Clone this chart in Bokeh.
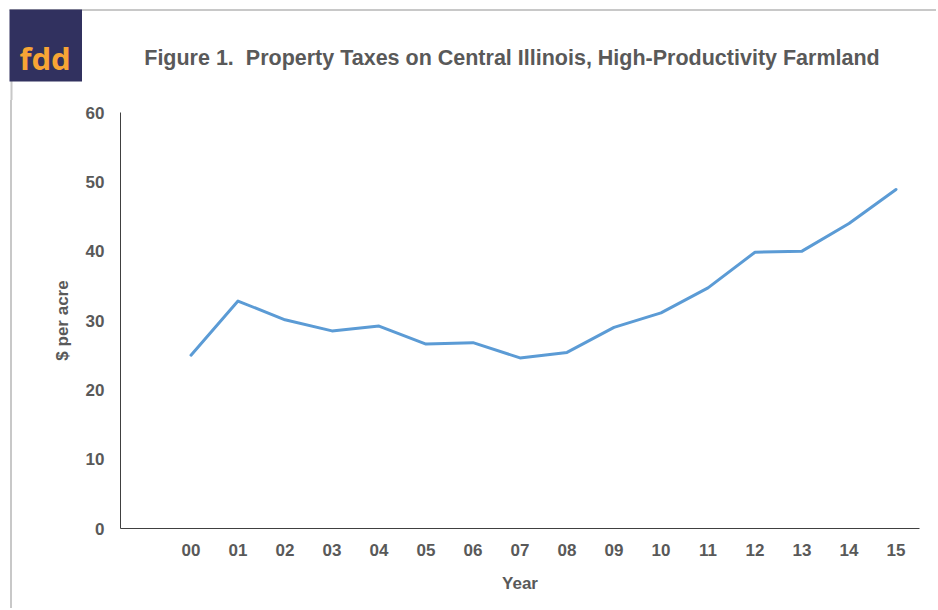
from bokeh.plotting import figure
from bokeh.models import Range1d, FixedTicker, Spacer
from bokeh.layouts import column, row
from bokeh.core.properties import value
from bokeh.embed import file_html
from bokeh.resources import INLINE

years = ["00", "01", "02", "03", "04", "05", "06", "07", "08", "09", "10", "11", "12", "13", "14", "15"]
taxes = [25.0, 32.8, 30.1, 28.5, 29.2, 26.6, 26.8, 24.6, 25.4, 29.0, 31.1, 34.7, 39.85, 40.0, 44.0, 48.9]
y_ticks = [0, 10, 20, 30, 40, 50, 60]

title_text = "Figure 1.\u00a0 Property Taxes on Central Illinois, High-Productivity Farmland"
logo_text = "fdd"
FONT = "Liberation Sans"
GREY = "#595959"
BORDER = "#C8C8C8"

TOTAL_W, TOTAL_H = 936, 608
HEAD_H = 100
STRIP_W = 12

# ---------- header (logo + title + page border) ----------
head = figure(width=TOTAL_W, height=HEAD_H, output_backend="svg", toolbar_location=None,
              x_range=Range1d(0, TOTAL_W), y_range=Range1d(HEAD_H, 0),
              x_axis_location=None, y_axis_location=None,
              min_border=0, min_border_left=0, min_border_right=0, min_border_top=0, min_border_bottom=0)
head.outline_line_color = None
head.xgrid.grid_line_color = None
head.ygrid.grid_line_color = None
head.segment(x0=[9], y0=[9.5], x1=[936], y1=[9.5], line_color=BORDER, line_width=2)
head.segment(x0=[11], y0=[9], x1=[11], y1=[HEAD_H], line_color=BORDER, line_width=2)
head.quad(left=[9], right=[81.5], top=[9], bottom=[81], fill_color="#31315F", line_color=None)
head.text(x=[44.5], y=[57], text=[logo_text], text_font=value("Noto Sans"), text_font_style="bold",
          text_font_size="31px", text_color="#F7A535", text_align="center", text_baseline="alphabetic")
head.text(x=[511.5], y=[57], text=[title_text], text_font=value(FONT), text_font_style="bold",
          text_font_size="21.5px", text_color=GREY, text_align="center", text_baseline="middle")

# ---------- left page-border strip (CSS border on a spacer) ----------
MAIN_H = TOTAL_H - HEAD_H
strip = Spacer(width=STRIP_W, height=MAIN_H,
               styles={"box-sizing": "border-box", "border-right": f"2px solid {BORDER}"})

# ---------- main chart ----------
MAIN_W = TOTAL_W - STRIP_W
ML = 120 - STRIP_W
MR = TOTAL_W - 919
MT = 112 - HEAD_H
MB = TOTAL_H - 528

xs = list(range(len(years)))
p = figure(width=MAIN_W, height=MAIN_H, output_backend="svg", toolbar_location=None,
           x_range=Range1d(-1.5, len(years) - 0.5), y_range=Range1d(0, 60),
           min_border_left=ML, min_border_right=MR, min_border_top=MT, min_border_bottom=MB)
p.outline_line_color = None
p.xgrid.grid_line_color = None
p.ygrid.grid_line_color = None

p.line(xs, taxes, line_color="#5B9BD5", line_width=3, line_join="round", line_cap="round")

p.xaxis.ticker = FixedTicker(ticks=xs)
p.xaxis.major_label_overrides = {i: y for i, y in zip(xs, years)}
p.yaxis.ticker = FixedTicker(ticks=y_ticks)
for ax in (p.xaxis[0], p.yaxis[0]):
    ax.major_tick_out = 0
    ax.major_tick_in = 0
    ax.minor_tick_out = 0
    ax.minor_tick_in = 0
    ax.axis_line_color = "#404040"
    ax.axis_line_width = 1
    ax.major_label_text_font = FONT
    ax.major_label_text_font_style = "bold"
    ax.major_label_text_font_size = "17px"
    ax.major_label_text_color = GREY
    ax.axis_label_text_font = FONT
    ax.axis_label_text_font_style = "bold"
    ax.axis_label_text_font_size = "17px"
    ax.axis_label_text_color = GREY
p.xaxis.axis_label = "Year"
p.yaxis.axis_label = "$ per acre"
p.xaxis.major_label_standoff = 15
p.yaxis.major_label_standoff = 16
p.xaxis.axis_label_standoff = 15
p.yaxis.axis_label_standoff = 11

layout = column(head, row(strip, p, spacing=0), spacing=0)
open("out.html", "w").write(file_html(layout, INLINE))
